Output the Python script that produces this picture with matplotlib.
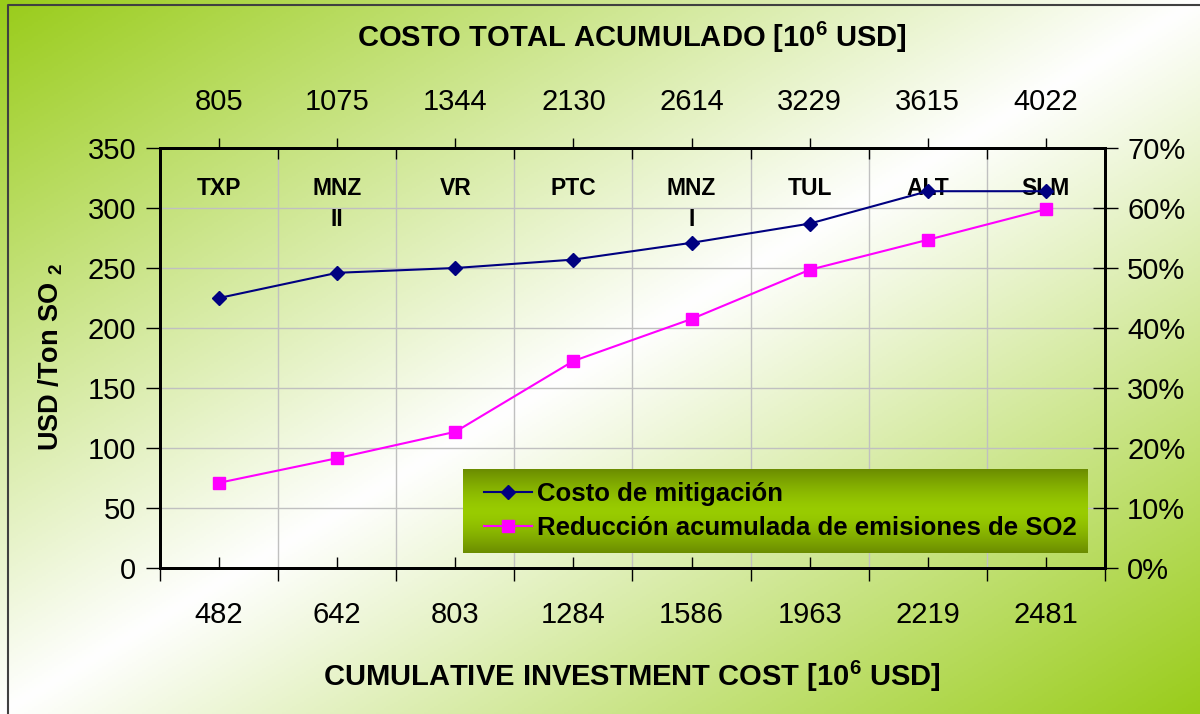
"""
Costo de mitigación vs. reducción acumulada de SO2 (dual axes, dual x scales).
"""
import numpy as np
import matplotlib
matplotlib.use("Agg")
import matplotlib.pyplot as plt
from matplotlib.ticker import FuncFormatter, MultipleLocator
from matplotlib.lines import Line2D

# Data
PLANTS = ["TXP", "MNZ\nII", "VR", "PTC", "MNZ\nI", "TUL", "ALT", "SLM"]
INVEST = ["482", "642", "803", "1284", "1586", "1963", "2219", "2481"]
TOTAL = ["805", "1075", "1344", "2130", "2614", "3229", "3615", "4022"]
COST = [225, 246, 250, 257, 271, 287, 314, 314]            # USD / Ton SO2
REDUCTION = [0.142, 0.183, 0.227, 0.345, 0.415, 0.497, 0.547, 0.598]

plt.rcParams.update({
    "font.family": ["Liberation Sans", "DejaVu Sans"],
    "mathtext.fontset": "custom",
    "mathtext.rm": "Liberation Sans",
    "mathtext.bf": "Liberation Sans:bold",
})

fig = plt.figure(figsize=(12, 7.14), dpi=100)

# Background: green corners (top-left / bottom-right), white diagonal
bg = fig.add_axes([0, 0, 1, 1], zorder=-10)
h, w = 357, 600
yy, xx = np.mgrid[0:h, 0:w]
t = (xx / (w - 1) + yy / (h - 1)) / 2
s = np.abs(2 * t - 1) ** 1.0
green = np.array([0.6, 0.8, 0.1])
img = 1 - s[..., None] * (1 - green)
bg.imshow(img, extent=[0, 1, 0, 1], aspect="auto", origin="upper")
bg.axis("off")
bg.plot([8 / 1200, 8 / 1200, 1], [0, 709 / 714, 709 / 714], color="#404040", lw=1.5)
bg.set_xlim(0, 1)
bg.set_ylim(0, 1)

x = np.arange(len(PLANTS))

ax = fig.add_axes([0.1333, 0.2045, 0.7875, 0.5882])
ax.set_facecolor("none")
ax.plot(x, COST, color="#000080", marker="D", ms=7, lw=1.5, zorder=4)
ax.set_xlim(-0.5, 7.5)
ax.set_ylim(0, 350)
ax.yaxis.set_major_locator(MultipleLocator(50))
ax.set_xticks(x)
ax.set_xticklabels(INVEST)
ax.set_xticks(np.arange(-0.5, 8, 1), minor=True)
ax.tick_params(axis="x", which="major", direction="in", length=8, width=1,
               pad=24, labelsize=21)
ax.tick_params(axis="x", which="minor", direction="out", length=9, width=1)
ax.tick_params(axis="y", direction="out", length=10, width=1, pad=7,
               labelsize=21)
ax.grid(axis="y", color="#C0C0C0", lw=1)
ax.grid(axis="x", which="minor", color="#C0C0C0", lw=1)

for xi, name in zip(x, PLANTS):
    ax.text(xi, 326, name, ha="center", va="top", fontsize=16.5,
            fontweight="bold", linespacing=1.45, zorder=3)

axr = ax.twinx()
axr.plot(x, REDUCTION, color="#FF00FF", marker="s", ms=8, lw=1.5, zorder=4)
axr.set_ylim(0, 0.7)
axr.yaxis.set_major_locator(MultipleLocator(0.1))
axr.yaxis.set_major_formatter(FuncFormatter(lambda v, p: f"{v * 100:.0f}%"))
axr.tick_params(axis="y", direction="inout", length=18, width=1, pad=7,
                labelsize=21)

axt = ax.twiny()
axt.set_xlim(-0.5, 7.5)
axt.set_xticks(x)
axt.set_xticklabels(TOTAL)
axt.set_xticks(np.arange(-0.5, 8, 1), minor=True)
axt.tick_params(axis="x", which="major", direction="out", length=7, width=1,
                pad=16, labelsize=21)
axt.tick_params(axis="x", which="minor", direction="in", length=8, width=1)

for a in (ax, axr, axt):
    for sp in a.spines.values():
        sp.set_linewidth(2)

# Axis titles
fig.text(0.527, 0.947, r"COSTO TOTAL ACUMULADO [10$^{\mathbf{6}}$ USD]",
         ha="center", va="center", fontsize=21, fontweight="bold")
fig.text(0.527, 0.052, r"CUMULATIVE INVESTMENT COST [10$^{\mathbf{6}}$ USD]",
         ha="center", va="center", fontsize=21, fontweight="bold")
fig.text(0.042, 0.5, r"USD /Ton SO $_{\mathbf{2}}$", rotation=90,
         ha="center", va="center", fontsize=19.5, fontweight="bold")

# Legend on a green gradient box
lg = fig.add_axes([0.3858, 0.2255, 0.5208, 0.1176], zorder=3)
grad = np.abs(np.linspace(-1, 1, 100)) ** 1.5
dark = np.array([0.42, 0.55, 0.0])
bright = np.array([0.6, 0.8, 0.0])
limg = bright + grad[:, None] * (dark - bright)
lg.imshow(np.repeat(limg[:, None, :], 10, axis=1), aspect="auto",
          extent=[0, 1, 0, 1])
lg.axis("off")

handles = [
    Line2D([], [], color="#000080", marker="D", ms=7, lw=1.5),
    Line2D([], [], color="#FF00FF", marker="s", ms=8, lw=1.5),
]
leg = lg.legend(handles, ["Costo de mitigación",
                          "Reducción acumulada de emisiones de SO2"],
                loc="center left", bbox_to_anchor=(0.0, 0.5), frameon=False,
                handlelength=1.9, handletextpad=0.2, labelspacing=0.4,
                borderaxespad=0.4,
                prop={"family": ["Liberation Sans"],
                      "weight": "bold", "size": 18.5})

fig.savefig("out.png", dpi=100)
